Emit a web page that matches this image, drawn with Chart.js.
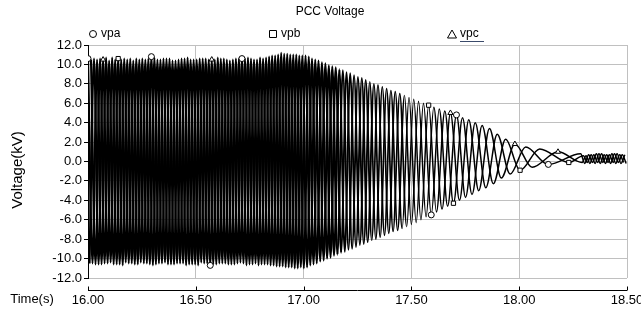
<!DOCTYPE html>
<html>
<head>
<meta charset="utf-8">
<title>PCC Voltage</title>
<script src="https://cdn.jsdelivr.net/npm/chart.js"></script>
<style>
  body { margin: 0; background: #fff; }
  #wrap { width: 641px; height: 310px; }
</style>
</head>
<body>
<div id="wrap"><canvas id="pccChart" width="641" height="310"></canvas></div>
<script>
// peak times (s) and peak values (kV), one pair of arrays per phase
const vpaTime = [
  16.000, 16.021, 16.042, 16.063, 16.084, 16.105, 16.126, 16.147, 16.168, 16.189,
  16.210, 16.231, 16.252, 16.273, 16.294, 16.315, 16.336, 16.357, 16.378, 16.399,
  16.420, 16.441, 16.462, 16.483, 16.504, 16.525, 16.546, 16.567, 16.588, 16.609,
  16.630, 16.651, 16.672, 16.693, 16.714, 16.735, 16.756, 16.777, 16.798, 16.819,
  16.840, 16.861, 16.882, 16.903, 16.924, 16.945, 16.966, 16.987,
  17.009, 17.031, 17.054, 17.077, 17.101, 17.125, 17.149, 17.174, 17.199, 17.225,
  17.252, 17.279, 17.307, 17.335, 17.365, 17.395, 17.425, 17.457, 17.489, 17.522,
  17.556, 17.592, 17.629, 17.668, 17.709, 17.751, 17.796, 17.845, 17.898, 17.958,
  18.030, 18.135, 18.285,
  18.304, 18.322, 18.340, 18.358, 18.376, 18.394, 18.412, 18.430, 18.448, 18.466, 18.484
];
const vpaVolt = [
  10.6, -10.5, 10.5, -10.6, 10.7, -10.4, 10.5, -10.6, 10.6, -10.5,
  10.4, -10.6, 10.6, -10.5, 10.8, -10.6, 10.5, -10.4, 10.6, -10.6,
  10.5, -10.5, 10.7, -10.6, 10.5, -10.4, 10.6, -10.7, 10.5, -10.5,
  10.6, -10.6, 10.5, -10.5, 10.6, -10.7, 10.6, -10.5, 10.7, -10.6,
  10.8, -10.7, 11.0, -10.8, 11.1, -10.9, 11.0, -10.9,
  10.9, -10.7, 10.5, -10.3, 10.1, -9.9, 9.7, -9.4, 9.2, -9.0,
  8.7, -8.5, 8.2, -8.0, 7.7, -7.4, 7.2, -6.9, 6.6, -6.3,
  6.0, -5.5, 5.4, -4.6, 4.8, -3.7, 4.0, -2.7, 2.8, -1.3,
  1.5, -0.3, 0.8,
  -0.2, 0.7, -0.1, 0.8, -0.2, 0.7, -0.1, 0.8, -0.2, 0.7, -0.1
];

const vpbTime = [
  16.014, 16.035, 16.056, 16.077, 16.098, 16.119, 16.140, 16.161, 16.182, 16.203,
  16.224, 16.245, 16.266, 16.287, 16.308, 16.329, 16.350, 16.371, 16.392, 16.413,
  16.434, 16.455, 16.476, 16.497, 16.518, 16.539, 16.560, 16.581, 16.602, 16.623,
  16.644, 16.665, 16.686, 16.707, 16.728, 16.749, 16.770, 16.791, 16.812, 16.833,
  16.854, 16.875, 16.896, 16.917, 16.938, 16.959, 16.980,
  17.001, 17.024, 17.046, 17.069, 17.093, 17.117, 17.141, 17.166, 17.191, 17.216,
  17.243, 17.270, 17.297, 17.326, 17.355, 17.385, 17.415, 17.446, 17.478, 17.511,
  17.544, 17.580, 17.616, 17.655, 17.695, 17.737, 17.781, 17.828, 17.880, 17.937,
  18.004, 18.095, 18.230,
  18.298, 18.316, 18.334, 18.352, 18.370, 18.388, 18.406, 18.424, 18.442, 18.460, 18.478, 18.496
];
const vpbVolt = [
  10.5, -10.6, 10.6, -10.5, 10.4, -10.6, 10.6, -10.7, 10.5, -10.5,
  10.6, -10.4, 10.5, -10.6, 10.7, -10.5, 10.6, -10.6, 10.4, -10.5,
  10.6, -10.7, 10.5, -10.6, 10.6, -10.5, 10.5, -10.6, 10.7, -10.5,
  10.5, -10.6, 10.6, -10.4, 10.6, -10.6, 10.5, -10.7, 10.6, -10.6,
  10.9, -10.8, 11.2, -10.9, 11.0, -11.0, 10.9,
  -11.0, 10.8, -10.6, 10.4, -10.2, 9.9, -9.7, 9.5, -9.3, 9.1,
  -8.8, 8.6, -8.3, 8.0, -7.8, 7.5, -7.2, 7.0, -6.7, 6.4,
  -6.0, 5.8, -5.2, 5.2, -4.3, 4.5, -3.4, 3.7, -2.3, 2.3,
  -0.9, 1.3, -0.1,
  0.6, -0.1, 0.7, -0.2, 0.8, -0.1, 0.7, -0.2, 0.8, -0.1, 0.7, -0.2
];

const vpcTime = [
  16.007, 16.028, 16.049, 16.070, 16.091, 16.112, 16.133, 16.154, 16.175, 16.196,
  16.217, 16.238, 16.259, 16.280, 16.301, 16.322, 16.343, 16.364, 16.385, 16.406,
  16.427, 16.448, 16.469, 16.490, 16.511, 16.532, 16.553, 16.574, 16.595, 16.616,
  16.637, 16.658, 16.679, 16.700, 16.721, 16.742, 16.763, 16.784, 16.805, 16.826,
  16.847, 16.868, 16.889, 16.910, 16.931, 16.952, 16.973, 16.994,
  17.016, 17.039, 17.061, 17.085, 17.109, 17.133, 17.157, 17.182, 17.208, 17.234,
  17.261, 17.288, 17.316, 17.345, 17.375, 17.405, 17.436, 17.468, 17.500, 17.533,
  17.568, 17.604, 17.642, 17.681, 17.723, 17.766, 17.812, 17.862, 17.917, 17.980,
  18.060, 18.180,
  18.292, 18.310, 18.328, 18.346, 18.364, 18.382, 18.400, 18.418, 18.436, 18.454, 18.472, 18.490
];
const vpcVolt = [
  -10.5, 10.6, -10.6, 10.5, -10.5, 10.7, -10.6, 10.5, -10.4, 10.6,
  -10.6, 10.5, -10.5, 10.6, -10.7, 10.5, -10.5, 10.6, -10.6, 10.4,
  -10.5, 10.6, -10.6, 10.5, -10.7, 10.6, -10.5, 10.5, -10.6, 10.6,
  -10.5, 10.4, -10.6, 10.6, -10.5, 10.7, -10.6, 10.5, -10.6, 10.7,
  -10.7, 10.9, -10.8, 11.1, -10.9, 11.0, -11.0, 10.9,
  -10.9, 10.6, -10.5, 10.2, -10.0, 9.8, -9.6, 9.4, -9.1, 8.9,
  -8.6, 8.4, -8.1, 7.9, -7.6, 7.3, -7.1, 6.8, -6.5, 6.2,
  -5.7, 5.6, -4.9, 5.0, -4.0, 4.3, -3.0, 3.4, -1.7, 1.8,
  -0.6, 1.0,
  -0.1, 0.6, -0.2, 0.7, -0.1, 0.8, -0.2, 0.7, -0.1, 0.8, -0.2, 0.7
];

// which samples carry the series symbol
const vpaMarks = [0, 14, 27, 34, 69, 72, 79];
const vpbMarks = [6, 68, 71, 77, 79];
const vpcMarks = [3, 27, 71, 77, 79];

const timeTicks = [16.0, 16.5, 17.0, 17.5, 18.0, 18.5];
const seriesNames = ['vpa', 'vpb', 'vpc'];

const FONT = "'Liberation Sans', Arial, sans-serif";
Chart.defaults.font.family = FONT;
Chart.defaults.color = '#000';

// the fast part of the trace prints as a solid band in the original
function traceWidth(c) {
  const t = c.p0.parsed.x;
  if (t < 17.15) return 2.2;
  if (t < 17.3) return 1.9;
  if (t < 17.45) return 1.7;
  return 1.5;
}

function series(label, times, volts, marks, style) {
  return {
    label: label,
    data: times.map((t, i) => ({ x: t, y: volts[i] })),
    borderColor: '#000',
    borderWidth: 1.5,
    segment: { borderWidth: traceWidth },
    cubicInterpolationMode: 'monotone',
    pointStyle: style,
    pointRadius: ctx => marks.includes(ctx.dataIndex) ? 3 : 0,
    pointHoverRadius: 0,
    pointBackgroundColor: '#fff',
    pointBorderColor: '#000',
    pointBorderWidth: 1,
    fill: false
  };
}

// title, legend, axis titles and the detached time axis line
const decor = {
  id: 'decor',
  afterDraw(chart) {
    const { ctx, chartArea: a } = chart;
    const x = chart.scales.x;
    ctx.save();
    ctx.fillStyle = '#000';
    ctx.strokeStyle = '#000';
    ctx.lineWidth = 1;
    ctx.textBaseline = 'middle';

    ctx.font = '12px ' + FONT;
    ctx.textAlign = 'center';
    ctx.fillText('PCC Voltage', 330, 12);

    // legend
    const legendX = [93, 273, 452];
    const ly = 34;
    ctx.textAlign = 'left';
    seriesNames.forEach((name, i) => {
      const cx = legendX[i];
      ctx.beginPath();
      if (i === 0) {
        ctx.arc(cx, ly, 3.5, 0, Math.PI * 2);
      } else if (i === 1) {
        ctx.rect(cx - 3.5, ly - 3.5, 7, 7);
      } else {
        ctx.moveTo(cx, ly - 4);
        ctx.lineTo(cx + 4.5, ly + 4);
        ctx.lineTo(cx - 4.5, ly + 4);
        ctx.closePath();
      }
      ctx.stroke();
      ctx.fillText(name, cx + 8, ly);
    });
    ctx.strokeStyle = '#3a4a6a';
    ctx.beginPath();
    ctx.moveTo(460, 41.5);
    ctx.lineTo(484, 41.5);
    ctx.stroke();
    ctx.strokeStyle = '#000';

    // time axis
    const yLine = Math.round(a.bottom) + 12.5;
    ctx.beginPath();
    ctx.moveTo(a.left, yLine);
    ctx.lineTo(a.right, yLine);
    timeTicks.forEach(t => {
      const px = Math.round(x.getPixelForValue(t)) + 0.5;
      ctx.moveTo(px, yLine);
      ctx.lineTo(px, yLine - 4);
    });
    ctx.stroke();

    ctx.font = '13px ' + FONT;
    ctx.textAlign = 'center';
    ctx.fillText('Time(s)', 32, 299);

    ctx.font = '15px ' + FONT;
    ctx.translate(18, 170);
    ctx.rotate(-Math.PI / 2);
    ctx.fillText('Voltage(kV)', 0, 0);
    ctx.restore();
  }
};

const pccCtx = document.getElementById('pccChart').getContext('2d');
new Chart(pccCtx, {
  type: 'line',
  data: {
    datasets: [
      series('vpa', vpaTime, vpaVolt, vpaMarks, 'circle'),
      series('vpb', vpbTime, vpbVolt, vpbMarks, 'rect'),
      series('vpc', vpcTime, vpcVolt, vpcMarks, 'triangle')
    ]
  },
  options: {
    responsive: false,
    animation: false,
    devicePixelRatio: 1,
    layout: { autoPadding: false, padding: { top: 45, right: 14, left: 0, bottom: 0 } },
    scales: {
      x: {
        type: 'linear',
        min: 16,
        max: 18.5,
        afterFit: s => { s.height = 32; s.paddingLeft = 0; s.paddingRight = 0; },
        afterBuildTicks: s => { s.ticks = timeTicks.map(v => ({ value: v })); },
        border: { display: false },
        grid: { color: '#c0c0c0', drawTicks: false },
        ticks: { padding: 15, font: { size: 13 }, callback: v => v.toFixed(2) }
      },
      y: {
        min: -12,
        max: 12,
        afterFit: s => { s.width = 88; s.paddingTop = 0; s.paddingBottom = 0; },
        border: { color: '#000' },
        grid: { color: '#c0c0c0', tickLength: 4, tickColor: '#000' },
        ticks: { stepSize: 2, padding: 2, font: { size: 13 }, callback: v => v.toFixed(1) }
      }
    },
    plugins: {
      legend: { display: false },
      title: { display: false },
      tooltip: { enabled: false }
    }
  },
  plugins: [decor]
});
</script>
</body>
</html>
